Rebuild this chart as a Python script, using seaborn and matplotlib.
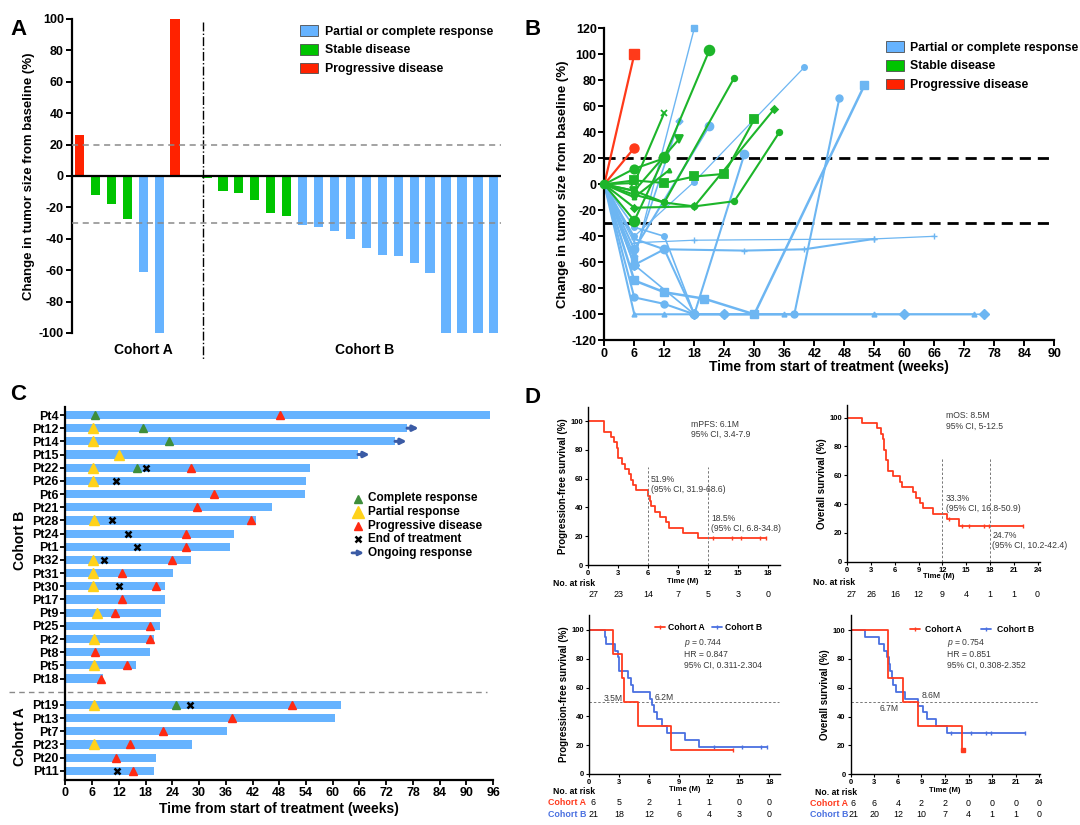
import numpy as np
import pandas as pd
import seaborn as sns
import matplotlib.pyplot as plt
from matplotlib.patches import Patch
from matplotlib.lines import Line2D

# ---------------- panel A: best change from baseline (waterfall) ----------------
wf_change = [26, -12, -18, -27.5, -61, -100, 100, 0.6,
             -1, -9.7, -10.8, -15.4, -23.5, -25.5,
             -31.5, -32.5, -35, -40, -46, -50.5, -51, -55.5, -62, -100, -100, -100, -100]
wf_status = ['PD', 'SD', 'SD', 'SD', 'PR', 'PR', 'PD', 'SD'] + ['SD'] * 6 + ['PR'] * 13
status_labels = ['Partial or complete response', 'Stable disease', 'Progressive disease']

# ---------------- panel B: spider plot (weeks, % change) ----------------
red_weeks = [[0, 6], [0, 6]]
red_pct = [[0, 100], [0, 28]]

green_weeks = [[0, 6, 12, 21], [0, 6, 12], [0, 6, 15], [0, 6, 12, 18, 24, 30],
               [0, 6, 12, 18, 26, 35], [0, 6, 12, 26], [0, 6, 18, 34], [0, 6, 12], [0, 6, 13]]
green_pct = [[0, -28, 21, 103], [0, 1, 55], [0, -5, 35], [0, 3, 1, 6, 8, 50],
             [0, -5, -14, -17, -13, 40], [0, -8, -14, 82], [0, -18, -17, 58], [0, 12, 20], [0, -10, 11]]

blue_weeks = [[0, 6, 18], [0, 6, 21], [0, 6, 18, 40], [0, 6, 12, 18, 28],
              [0, 6, 12, 18, 24, 38, 47], [0, 6, 18, 54, 66], [0, 6, 12, 28, 40, 54],
              [0, 6, 12, 20, 30, 52], [0, 6, 12, 18, 36, 54, 74], [0, 6, 18, 24, 60, 76],
              [0, 6, 15], [0, 6, 12, 18]]
blue_pct = [[0, -58, 120], [0, -50, 45], [0, -40, 2, 90], [0, -62, -50, -100, 23],
            [0, -87, -92, -100, -100, -100, 66], [0, -45, -43, -42, -40], [0, -42, -50, -51, -50, -42],
            [0, -74, -83, -88, -100, 76], [0, -100, -100, -100, -100, -100, -100],
            [0, -62, -100, -100, -100, -100], [0, -55, 49], [0, -33, -40, -100]]

# ---------------- panel C: swimmer plot ----------------
swim_patients = ['Pt4', 'Pt12', 'Pt14', 'Pt15', 'Pt22', 'Pt26', 'Pt6', 'Pt21', 'Pt28', 'Pt24', 'Pt1',
                 'Pt32', 'Pt31', 'Pt30', 'Pt17', 'Pt9', 'Pt25', 'Pt2', 'Pt8', 'Pt5', 'Pt18',
                 'Pt19', 'Pt13', 'Pt7', 'Pt23', 'Pt20', 'Pt11']
swim_cohort = ['B'] * 21 + ['A'] * 6
swim_weeks = [95.3, 76.7, 74.0, 65.7, 55.0, 53.9, 53.7, 46.4, 42.7, 37.9, 36.9,
              28.3, 24.2, 22.3, 22.3, 21.5, 21.3, 19.9, 18.9, 15.9, 8.5,
              61.9, 60.6, 36.3, 28.5, 20.3, 19.9]
ongoing_pts = ['Pt12', 'Pt14', 'Pt15']
cr_pts = ['Pt4', 'Pt12', 'Pt14', 'Pt22', 'Pt19']
cr_wk = [6.6, 17.4, 23.3, 16.0, 24.9]
pr_pts = ['Pt12', 'Pt14', 'Pt15', 'Pt22', 'Pt26', 'Pt28', 'Pt32', 'Pt31', 'Pt30', 'Pt9', 'Pt2', 'Pt5',
          'Pt19', 'Pt23']
pr_wk = [6.3, 6.3, 12.1, 6.3, 6.2, 6.4, 6.2, 6.2, 6.2, 7.0, 6.5, 6.5, 6.5, 6.5]
pd_pts = ['Pt4', 'Pt22', 'Pt6', 'Pt21', 'Pt28', 'Pt24', 'Pt1', 'Pt32', 'Pt31', 'Pt30', 'Pt17', 'Pt9',
          'Pt25', 'Pt2', 'Pt8', 'Pt5', 'Pt18', 'Pt19', 'Pt13', 'Pt7', 'Pt23', 'Pt20', 'Pt11']
pd_wk = [48.2, 28.1, 33.4, 29.5, 41.7, 27.0, 27.0, 23.9, 12.8, 20.3, 12.6, 11.2,
         19.1, 19.1, 6.6, 13.9, 7.9, 50.8, 37.3, 21.9, 14.6, 11.4, 15.1]
eot_pts = ['Pt22', 'Pt26', 'Pt28', 'Pt24', 'Pt1', 'Pt32', 'Pt30', 'Pt19', 'Pt11']
eot_wk = [18.2, 11.4, 10.4, 14.1, 16.0, 8.7, 12.1, 27.9, 11.6]

# ---------------- panel D: Kaplan-Meier curves (months, %) ----------------
pfs_t = [0, 1.6, 2.3, 2.6, 2.9, 3.0, 3.4, 3.7, 4.1, 4.3, 4.5, 4.8, 6.0, 6.2, 6.3, 6.7, 7.2, 7.8, 8.1, 9.5, 11.0, 17.8]
pfs_s = [100, 92.6, 88.9, 85.2, 81.5, 74.1, 70.4, 66.7, 63.0, 59.3, 55.6, 51.9, 48.1, 44.4, 40.7, 37.0,
         33.3, 29.6, 25.9, 22.2, 18.5, 18.5]
pfs_cens = [12.5, 14.4, 15.3, 17.2, 17.8]
pfs_risk = [27, 23, 14, 7, 5, 3, 0]

os_t = [0, 1.9, 3.7, 4.3, 4.5, 4.6, 4.9, 5.1, 5.7, 6.6, 6.9, 8.3, 8.7, 9.2, 9.6, 10.8, 12.6, 14.1, 22.2]
os_s = [100, 96.3, 92.6, 88.9, 85.2, 77.8, 70.4, 63.0, 59.3, 55.6, 51.9, 48.1, 44.4, 40.7, 37.0, 33.3,
        29.6, 24.7, 24.7]
os_cens_t = [12.8, 14.5, 15.3, 17.2, 17.9, 22.2]
os_cens_s = [29.6, 24.7, 24.7, 24.7, 24.7, 24.7]
os_risk = [27, 26, 16, 12, 9, 4, 1, 1, 0]

pfs_a_t = [0, 2.4, 3.3, 3.5, 4.9, 8.2, 14.4]
pfs_a_s = [100, 83.3, 66.7, 50.0, 33.3, 16.7, 16.7]
pfs_a_cens = [14.4]
pfs_b_t = [0, 1.6, 1.7, 2.6, 2.9, 3.0, 3.9, 4.2, 4.4, 6.1, 6.3, 6.5, 6.8, 7.3, 7.8, 9.6, 11.0, 17.8]
pfs_b_s = [100, 95.2, 90.5, 85.7, 81.0, 71.4, 66.7, 61.9, 57.1, 52.4, 47.6, 42.9, 38.1, 33.3, 28.6,
           23.8, 19.0, 19.0]
pfs_b_cens = [12.5, 15.3, 17.2, 17.8]
pfs_risk_a = [6, 5, 2, 1, 1, 0, 0]
pfs_risk_b = [21, 18, 12, 6, 4, 3, 0]

os_a_t = [0, 4.7, 6.7, 8.5, 14.1, 14.3]
os_a_s = [100, 66.7, 50.0, 33.3, 16.7, 16.7]
os_a_cens = [14.3]
os_b_t = [0, 1.8, 3.6, 4.2, 4.6, 4.9, 5.0, 5.2, 5.4, 5.8, 6.9, 8.6, 9.2, 9.7, 10.9, 12.3, 22.2]
os_b_s = [100, 95.2, 90.5, 85.7, 81.0, 76.2, 71.4, 66.7, 61.9, 57.1, 52.4, 47.6, 42.9, 38.1, 33.3,
          28.6, 28.6]
os_b_cens = [12.7, 15.3, 17.2, 17.9, 22.2]
os_risk_a = [6, 6, 4, 2, 2, 0, 0, 0, 0]
os_risk_b = [21, 20, 12, 10, 7, 4, 1, 1, 0]

# ---------------- style ----------------
sns.set_theme(style="ticks", rc={'axes.edgecolor': 'black', 'xtick.color': 'black', 'ytick.color': 'black',
                                 'text.color': 'black', 'axes.labelcolor': 'black'})
plt.rcParams['font.family'] = ['Liberation Sans', 'DejaVu Sans']
plt.rcParams['axes.unicode_minus'] = False
plt.rcParams['mathtext.fontset'] = 'custom'
plt.rcParams['mathtext.it'] = 'Liberation Sans:italic'
plt.rcParams['mathtext.rm'] = 'Liberation Sans'

bar_blue, bar_green, bar_red = '#66B3FF', '#00C400', '#FF2200'
line_blue, line_green, line_red = '#6DB6F2', '#1DB52A', '#FF3A1A'
km_red, km_blue = '#FF3B1F', '#4A70E0'
note_col = '#3a3a3a'

W, H = 1080, 825
fig = plt.figure(figsize=(W / 100, H / 100), dpi=100)


def add_ax(left, top, right, bottom):
    return fig.add_axes([left / W, 1 - bottom / H, (right - left) / W, (bottom - top) / H])


def bold_ticks(ax, size):
    ax.tick_params(labelsize=size)
    for t in ax.get_xticklabels() + ax.get_yticklabels():
        t.set_fontweight('bold')


# ================= A =================
axA = add_ax(72.3, 19, 501, 333)
wf = pd.DataFrame({'pos': np.arange(len(wf_change)), 'change': wf_change, 'status': wf_status})
sns.barplot(data=wf, x='pos', y='change', hue='status',
            palette={'PR': bar_blue, 'SD': bar_green, 'PD': bar_red},
            native_scale=True, dodge=False, width=0.58, saturation=1, legend=False,
            errorbar=None, linewidth=0, ax=axA)
axA.set_xlim(-0.45, len(wf_change) - 0.55)
axA.set_ylim(-100, 100)
axA.set_xticks([])
axA.set_xlabel('')
axA.set_yticks(range(-100, 101, 20))
for s in ['top', 'right', 'bottom']:
    axA.spines[s].set_visible(False)
axA.spines['left'].set_linewidth(1.6)
axA.tick_params(axis='y', length=4, width=1.4, pad=2)
bold_ticks(axA, 9)
axA.axhline(0, color='black', lw=1.6, zorder=3)
for lvl in (20, -30):
    axA.axhline(lvl, color='#8a8a8a', lw=1.1, ls=(0, (4, 3)), zorder=4)
axA.plot([7.73, 7.73], [98, -117], color='black', lw=1, ls='-.', clip_on=False)
axA.text(4.0, -110.8, 'Cohort A', ha='center', va='center', fontsize=10, fontweight='bold')
axA.text(17.9, -110.8, 'Cohort B', ha='center', va='center', fontsize=10, fontweight='bold')
axA.set_ylabel('Change in tumor size from baseline (%)', fontsize=9.5, fontweight='bold', labelpad=3)

leg_handles = [Patch(facecolor=c, edgecolor='#4d4d4d', lw=0.6) for c in (bar_blue, bar_green, bar_red)]
axA.legend(leg_handles, status_labels, loc='upper left', bbox_to_anchor=(299.5 / W, 1 - 25 / H),
           bbox_transform=fig.transFigure, frameon=False, prop={'weight': 'bold', 'size': 8.8},
           handlelength=1.55, handleheight=1.0, handletextpad=0.5, labelspacing=0.5,
           borderpad=0, borderaxespad=0)

# ================= B =================
axB = add_ax(604.3, 28.3, 1054.3, 340.3)
blue_marker = ['s', 'o', 'o', 'o', 'o', '+', '+', 's', '^', 'D', 'D', 'o']
blue_ms = [4, 6, 4, 6, 5, 4, 4, 6, 3.5, 5, 3.5, 4]
blue_lw = [1, 1.5, 0.9, 1.5, 1.5, 0.9, 1.5, 1.8, 1.5, 1.2, 1.2, 1.2]
for w, p, m, ms, lw in zip(blue_weeks, blue_pct, blue_marker, blue_ms, blue_lw):
    axB.plot(w, p, color=line_blue, lw=lw, marker=m, ms=ms, mec=line_blue, mew=1,
             markevery=slice(1, None), clip_on=False)
green_marker = ['o', 'x', 'v', 's', 'o', 'o', 'D', 'o', '^']
green_ms = [7, 5, 6, 6, 4, 4, 3.5, 6, 3]
for w, p, m, ms in zip(green_weeks, green_pct, green_marker, green_ms):
    axB.plot(w, p, color=line_green, lw=1.5, marker=m, ms=ms, mec=line_green, mew=1.3,
             markevery=slice(1, None), clip_on=False)
for w, p, m in zip(red_weeks, red_pct, ['s', 'o']):
    axB.plot(w, p, color=line_red, lw=1.6, marker=m, ms=6.5, mec=line_red,
             markevery=slice(1, None), clip_on=False)
axB.plot([0], [0], ls='none', marker='o', ms=6, color=line_green, clip_on=False, zorder=5)
for lvl in (20, -30):
    axB.axhline(lvl, xmax=0.995, color='black', lw=2, ls=(0, (4, 2.5)), zorder=1)
axB.set_xlim(0, 90)
axB.set_ylim(-120, 120)
axB.set_xticks(range(0, 91, 6))
axB.set_yticks(range(-120, 121, 20))
for s in ['top', 'right']:
    axB.spines[s].set_visible(False)
axB.spines['left'].set_linewidth(1.6)
axB.spines['bottom'].set_linewidth(1.6)
axB.tick_params(length=4, width=1.4, pad=1.5)
bold_ticks(axB, 9)
axB.set_xlabel('Time from start of treatment (weeks)', fontsize=10, fontweight='bold', labelpad=0)
axB.set_ylabel('Change in tumor size from baseline (%)', fontsize=9.5, fontweight='bold', labelpad=2)
axB.legend(leg_handles, status_labels, loc='upper left', bbox_to_anchor=(886 / W, 1 - 41 / H),
           bbox_transform=fig.transFigure, frameon=False, prop={'weight': 'bold', 'size': 8.8},
           handlelength=1.45, handleheight=1.0, handletextpad=0.5, labelspacing=0.5,
           borderpad=0, borderaxespad=0)

# ================= C =================
axC = add_ax(65.4, 406.7, 493.1, 780)
rows = [i if c == 'B' else i + 1 for i, c in enumerate(swim_cohort)]
row_of = dict(zip(swim_patients, rows))
sns.barplot(x=swim_weeks, y=rows, orient='h', native_scale=True, color=bar_blue, width=0.62,
            saturation=1, errorbar=None, linewidth=0, ax=axC)
axC.set_ylim(27.7, -0.63)
axC.set_xlim(0, 96)
axC.set_yticks(rows)
axC.set_yticklabels(swim_patients)
axC.set_xticks(range(0, 97, 6))
for s in ['top', 'right']:
    axC.spines[s].set_visible(False)
axC.spines['left'].set_linewidth(1.6)
axC.spines['bottom'].set_linewidth(1.6)
axC.tick_params(length=3.5, width=1.3, pad=1.5)
bold_ticks(axC, 9)
axC.set_ylabel('')
axC.set_xlabel('Time from start of treatment (weeks)', fontsize=10, fontweight='bold', labelpad=2)

for p in ongoing_pts:
    end = swim_weeks[swim_patients.index(p)]
    axC.annotate('', xy=(end + 2.6, row_of[p]), xytext=(end, row_of[p]),
                 arrowprops=dict(arrowstyle='-|>', color='#3B5BA5', lw=2.2, mutation_scale=8,
                                 shrinkA=0, shrinkB=0))
axC.plot(cr_wk, [row_of[p] for p in cr_pts], ls='none', marker='^', ms=5.5, color='#3E8E3A', zorder=5)
axC.plot(pr_wk, [row_of[p] for p in pr_pts], ls='none', marker='^', ms=7.5, color='#FFD21A', zorder=5)
axC.plot(pd_wk, [row_of[p] for p in pd_pts], ls='none', marker='^', ms=5.5, color='#FF2A12', zorder=5)
axC.plot(eot_wk, [row_of[p] for p in eot_pts], ls='none', marker='x', ms=4.5, mew=1.8, color='black', zorder=6)
axC.plot([-12.7, 94.6], [21, 21], color='#8a8a8a', lw=1, ls=(0, (4, 3)), clip_on=False)
axC.text(-10.3, 9.5, 'Cohort B', rotation=90, ha='center', va='center', fontsize=10, fontweight='bold')
axC.text(-10.3, 24.4, 'Cohort A', rotation=90, ha='center', va='center', fontsize=10, fontweight='bold')

legC_items = [('Complete response', '^', '#3E8E3A', 6), ('Partial response', '^', '#FFD21A', 8),
              ('Progressive disease', '^', '#FF2A12', 6), ('End of treatment', 'x', 'black', 4.5)]
for k, (lab, m, c, ms) in enumerate(legC_items):
    yy = 1 - (498.5 + 13.6 * k) / H
    fig.add_artist(Line2D([358 / W], [yy], marker=m, ms=ms, mew=1.8 if m == 'x' else 1, color=c, ls='none'))
    fig.text(367.8 / W, yy, lab, fontsize=8.5, fontweight='bold', va='center', ha='left')
yy = 825 - (498.5 + 13.6 * 4)
axC.annotate('', xy=(364, yy), xytext=(352, yy), xycoords='figure pixels', textcoords='figure pixels',
             arrowprops=dict(arrowstyle='-|>', color='#3B5BA5', lw=2, mutation_scale=7, shrinkA=0, shrinkB=0))
fig.text(367.8 / W, yy / H, 'Ongoing response', fontsize=8.5, fontweight='bold', va='center', ha='left')


# ================= D =================
def km_axes(ax, xmax, xstep, ytop, ylabel):
    ax.set_xlim(0, xmax)
    ax.set_ylim(0, ytop)
    ax.set_xticks(np.arange(0, xmax + 0.01, xstep))
    ax.set_yticks(range(0, 101, 20))
    for s in ['top', 'right']:
        ax.spines[s].set_visible(False)
    ax.spines['left'].set_linewidth(1.0)
    ax.spines['bottom'].set_linewidth(1.0)
    ax.tick_params(length=2.5, width=0.8, pad=1.2)
    bold_ticks(ax, 5.5)
    ax.set_ylabel(ylabel, fontsize=7, fontweight='bold', labelpad=2)


def note(ax, x, y, s):
    ax.text(x, y, s, fontsize=6.2, color=note_col, ha='left', va='center', linespacing=1.15)


def risk_row(ax, xstep, values, y, color, first_shift):
    for i, v in enumerate(values):
        ax.text(i * xstep + (first_shift if i == 0 else 0), y, str(v), fontsize=6.4, color=color,
                ha='center', va='center', clip_on=False)


# D1: PFS overall
axD1 = add_ax(588.3, 406.7, 780, 565)
km_axes(axD1, 19.2, 3, 110, 'Progression-free survival (%)')
axD1.plot(pfs_t, pfs_s, drawstyle='steps-post', color=km_red, lw=1.3)
axD1.plot(pfs_cens, [pfs_s[-1]] * len(pfs_cens), ls='none', marker='|', ms=3.5, mew=1, color=km_red)
for xv in (6, 12):
    axD1.plot([xv, xv], [0, 68], color='#777777', lw=0.7, ls=(0, (2.5, 2)))
note(axD1, 10.3, 94.2, 'mPFS: 6.1M\n95% CI, 3.4-7.9')
note(axD1, 6.27, 56.1, '51.9%\n(95% CI, 31.9-68.6)')
note(axD1, 12.3, 29.0, '18.5%\n(95% CI, 6.8-34.8)')
axD1.text(9.5, -11.8, 'Time (M)', fontsize=5.5, fontweight='bold', ha='center', va='center')
axD1.text(-3.5, -12.7, 'No. at risk', fontsize=6.2, fontweight='bold', ha='left', va='center')
risk_row(axD1, 3, pfs_risk, -20.3, 'black', 0.5)

# D2: OS overall
axD2 = add_ax(847.3, 405, 1040, 561.7)
km_axes(axD2, 24.3, 3, 108.8, 'Overall survival (%)')
axD2.plot(os_t, os_s, drawstyle='steps-post', color=km_red, lw=1.3)
axD2.plot(os_cens_t, os_cens_s, ls='none', marker='|', ms=3.5, mew=1, color=km_red)
for xv in (12, 18):
    axD2.plot([xv, xv], [0, 72], color='#777777', lw=0.7, ls=(0, (2.5, 2)))
note(axD2, 12.5, 97.8, 'mOS: 8.5M\n95% CI, 5-12.5')
note(axD2, 12.4, 40.5, '33.3%\n(95% CI, 16.8-50.9)')
note(axD2, 18.3, 14.9, '24.7%\n(95% CI, 10.2-42.4)')
axD2.text(11.5, -10.5, 'Time (M)', fontsize=5.5, fontweight='bold', ha='center', va='center')
axD2.text(-4.3, -14.6, 'No. at risk', fontsize=6.2, fontweight='bold', ha='left', va='center')
risk_row(axD2, 3, os_risk, -22.5, 'black', 0.5)

# D3: PFS by cohort
axD3 = add_ax(589.3, 615, 780, 774)
km_axes(axD3, 19.07, 3, 110.4, 'Progression-free survival (%)')
axD3.plot([0, 19], [50, 50], color='#777777', lw=0.7, ls=(0, (2.5, 2)))
axD3.plot(pfs_b_t, pfs_b_s, drawstyle='steps-post', color=km_blue, lw=1.3)
axD3.plot(pfs_b_cens, [pfs_b_s[-1]] * len(pfs_b_cens), ls='none', marker='|', ms=3.5, mew=1, color=km_blue)
axD3.plot(pfs_a_t, pfs_a_s, drawstyle='steps-post', color=km_red, lw=1.3)
axD3.plot(pfs_a_cens, [pfs_a_s[-1]] * len(pfs_a_cens), ls='none', marker='|', ms=3.5, mew=1, color=km_red)
note(axD3, 1.4, 52.1, '3.5M')
note(axD3, 6.57, 53.0, '6.2M')
note(axD3, 9.47, 83.8, '$\\mathit{p}$ = 0.744\nHR = 0.847\n95% CI, 0.311-2.304')
km_handles = [Line2D([], [], color=km_red, lw=1.3, marker='|', ms=3.5, mew=1),
              Line2D([], [], color=km_blue, lw=1.3, marker='|', ms=3.5, mew=1)]
axD3.legend(km_handles, ['Cohort A', 'Cohort B'], ncol=2, loc='center left', bbox_to_anchor=(0.345, 0.92),
            frameon=False, prop={'size': 6.2, 'weight': 'bold'}, handlelength=1.2, handletextpad=0.35,
            columnspacing=0.8, borderpad=0, borderaxespad=0)
axD3.text(9.57, -10.8, 'Time (M)', fontsize=5.5, fontweight='bold', ha='center', va='center')
axD3.text(-3.6, -12.3, 'No. at risk', fontsize=6.2, fontweight='bold', ha='left', va='center')
axD3.text(-4.1, -19.9, 'Cohort A', fontsize=6.4, fontweight='bold', color=km_red, ha='left', va='center')
axD3.text(-4.1, -27.8, 'Cohort B', fontsize=6.4, fontweight='bold', color=km_blue, ha='left', va='center')
risk_row(axD3, 3, pfs_risk_a, -19.9, 'black', 0.4)
risk_row(axD3, 3, pfs_risk_b, -27.8, 'black', 0.4)

# D4: OS by cohort
axD4 = add_ax(850.7, 615, 1040, 774.3)
km_axes(axD4, 24.08, 3, 110.4, 'Overall survival (%)')
axD4.plot([0, 24], [50, 50], color='#777777', lw=0.7, ls=(0, (2.5, 2)))
axD4.plot(os_b_t, os_b_s, drawstyle='steps-post', color=km_blue, lw=1.3)
axD4.plot(os_b_cens, [os_b_s[-1]] * len(os_b_cens), ls='none', marker='|', ms=3.5, mew=1, color=km_blue)
axD4.plot(os_a_t, os_a_s, drawstyle='steps-post', color=km_red, lw=1.3)
axD4.plot(os_a_cens, [os_a_s[-1]] * len(os_a_cens), ls='none', marker='s', ms=2.5, color=km_red)
note(axD4, 9.03, 54.3, '8.6M')
note(axD4, 3.73, 45.3, '6.7M')
note(axD4, 12.2, 83.8, '$\\mathit{p}$ = 0.754\nHR = 0.851\n95% CI, 0.308-2.352')
axD4.legend(km_handles, ['Cohort A', 'Cohort B'], ncol=2, loc='center left', bbox_to_anchor=(0.313, 0.906),
            frameon=False, prop={'size': 6.2, 'weight': 'bold'}, handlelength=1.2, handletextpad=0.6,
            columnspacing=2.2, borderpad=0, borderaxespad=0)
axD4.text(12.0, -11.2, 'Time (M)', fontsize=5.5, fontweight='bold', ha='center', va='center')
axD4.text(-4.5, -12.7, 'No. at risk', fontsize=6.2, fontweight='bold', ha='left', va='center')
axD4.text(-5.2, -19.9, 'Cohort A', fontsize=6.4, fontweight='bold', color=km_red, ha='left', va='center')
axD4.text(-5.2, -27.8, 'Cohort B', fontsize=6.4, fontweight='bold', color=km_blue, ha='left', va='center')
risk_row(axD4, 3, os_risk_a, -19.9, 'black', 0.3)
risk_row(axD4, 3, os_risk_b, -27.8, 'black', 0.3)

# panel letters
for letter, x, y in [('A', 10.3, 35), ('B', 525, 35), ('C', 10.3, 400), ('D', 525, 403)]:
    fig.text(x / W, 1 - y / H, letter, fontsize=16, fontweight='bold', va='baseline', ha='left')

fig.savefig('out.png', dpi=100)
